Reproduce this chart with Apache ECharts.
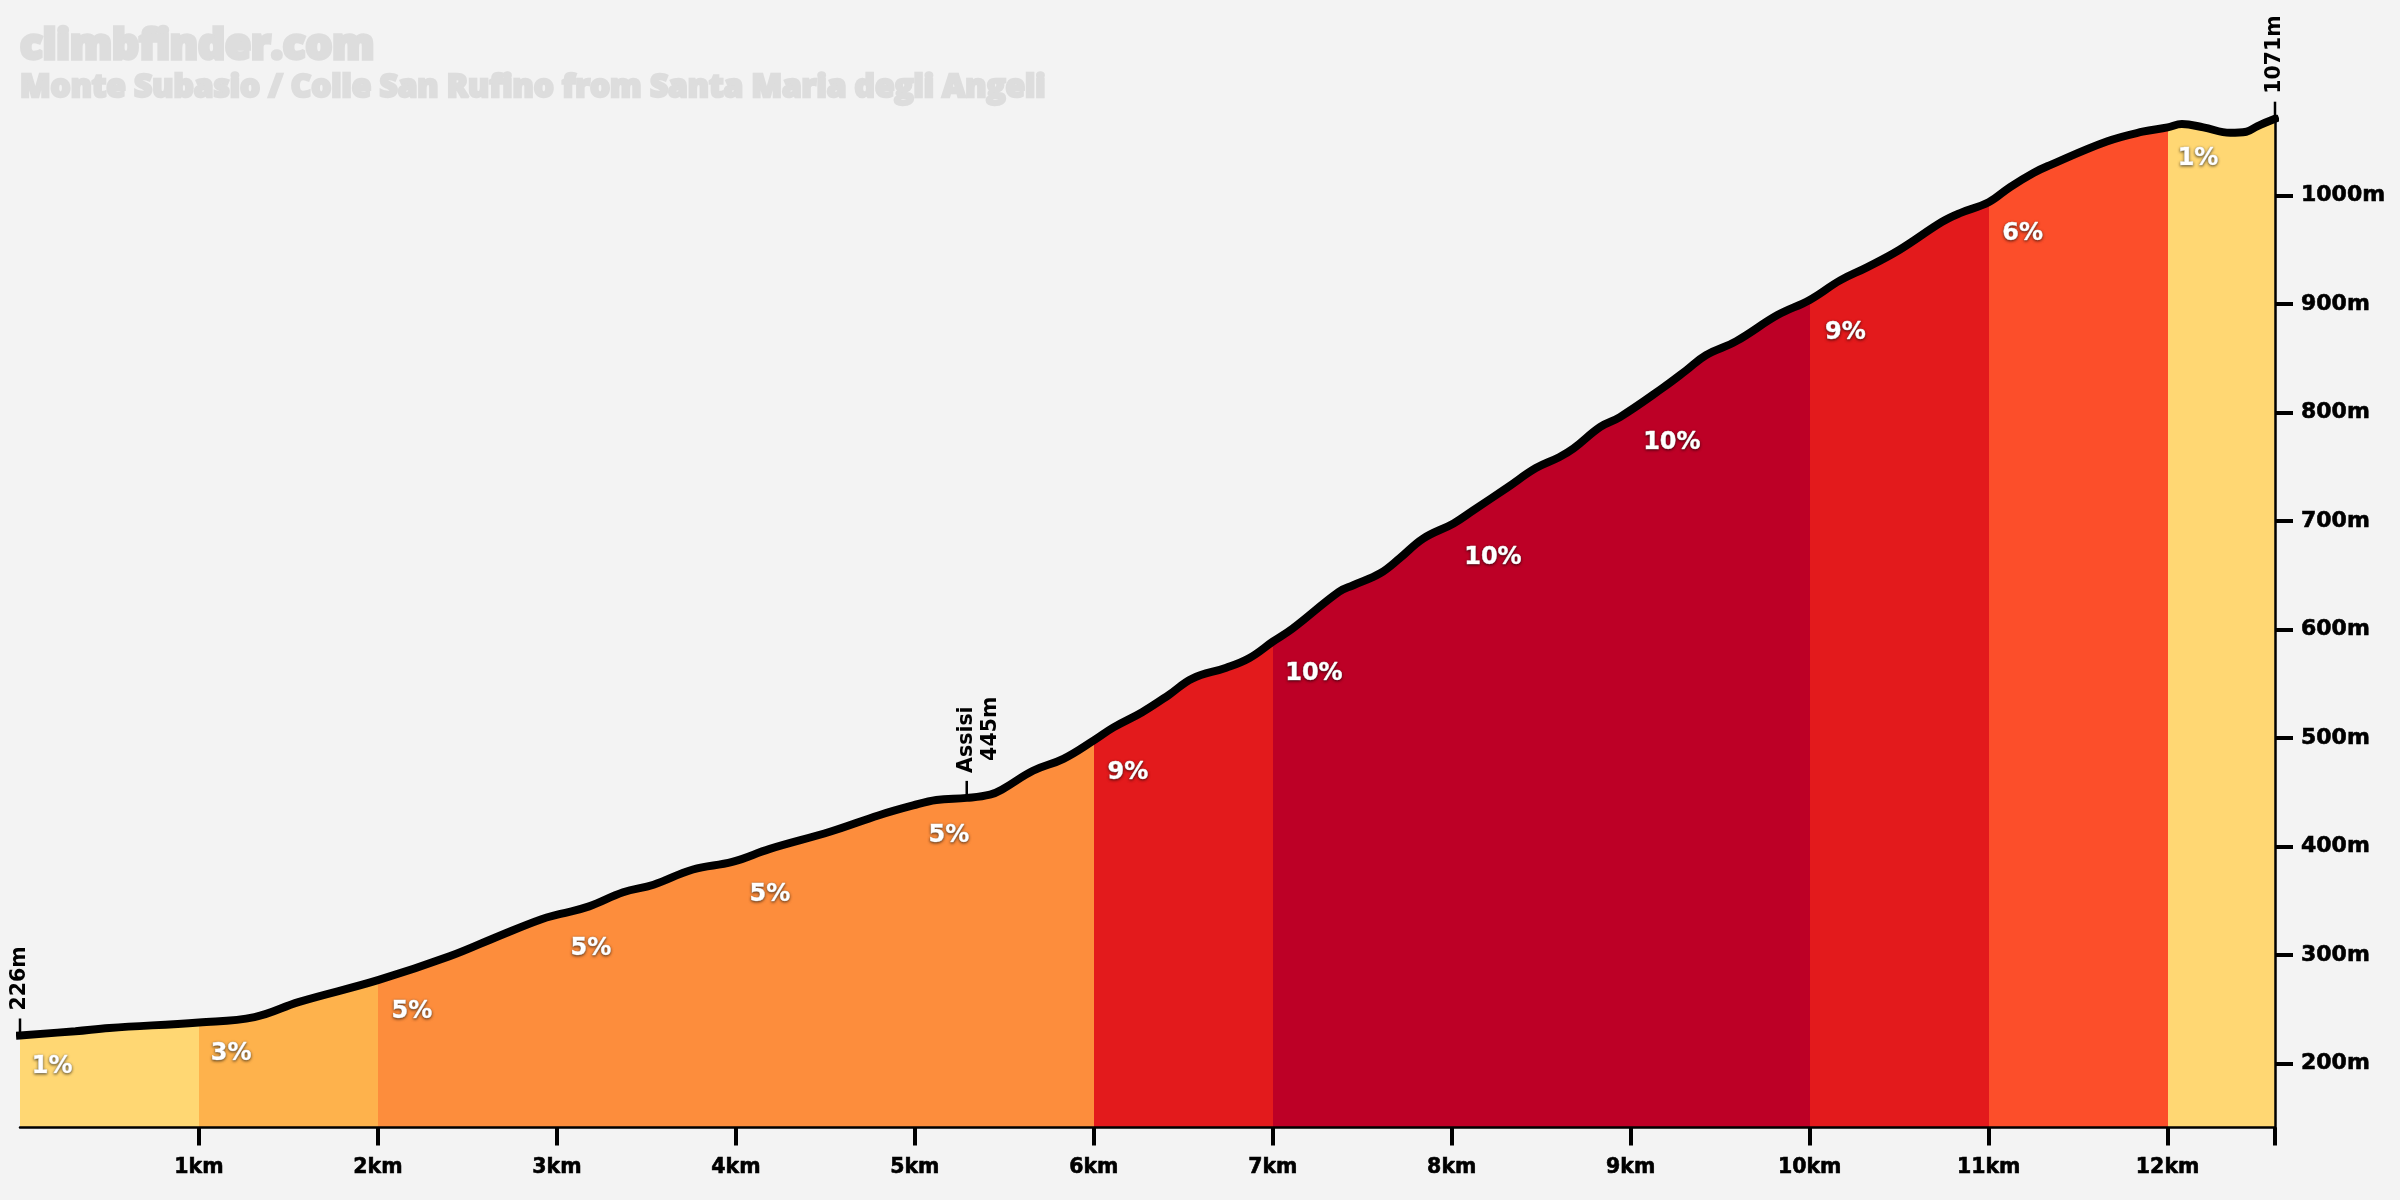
<!DOCTYPE html>
<html>
<head>
<meta charset="utf-8">
<script src="https://cdnjs.cloudflare.com/ajax/libs/echarts/6.0.0/echarts.min.js"></script>
<style>
  html, body { margin: 0; height: 100%; background: #f3f3f3; }
  #myChart { width: 2400px; height: 1200px; }
</style>
</head>
<body>
<div id="myChart"></div>
<script type="text/javascript">
  // elevation profile
  var profileKm = [0, 0.31, 0.5, 1, 1.31, 1.56, 2, 2.4, 2.68, 2.91, 3.02, 3.18, 3.37, 3.54, 3.76, 3.98, 4.19, 4.53, 4.8, 4.99, 5.12, 5.29, 5.42, 5.49, 5.66, 5.83, 6, 6.11, 6.27, 6.42, 6.55, 6.74, 6.87, 7, 7.11, 7.37, 7.45, 7.6, 7.71, 7.84, 8.01, 8.12, 8.31, 8.47, 8.6, 8.68, 8.83, 8.94, 9.18, 9.31, 9.42, 9.59, 9.82, 10, 10.17, 10.32, 10.5, 10.74, 10.84, 11, 11.12, 11.25, 11.34, 11.66, 11.86, 12, 12.08, 12.2, 12.35, 12.44, 12.5, 12.6];
  var profileElev = [226, 230, 233, 238, 243, 257, 277, 299, 318, 333, 338, 345, 358, 365, 379, 386, 398, 414, 429, 438, 443, 445, 448, 453, 470, 481, 498, 510, 524, 540, 555, 565, 574, 589, 601, 635, 641, 652, 666, 684, 698, 710, 731, 749, 759, 767, 787, 796, 823, 839, 853, 866, 890, 904, 922, 934, 950, 976, 984, 994, 1008, 1021, 1028, 1050, 1059, 1063, 1066, 1063, 1058, 1059, 1064, 1071];

  // gradient sections along the road
  var sectionEnds = [1, 2, 6, 7, 10, 11, 12, 12.6];
  var sectionColors = ["#ffd773", "#feb24c", "#fd8d3c", "#e31a1c", "#bd0026", "#e31a1c", "#fc4e2a", "#ffd773"];

  // percent labels
  var gradeKm = [0.18, 1.18, 2.19, 3.19, 4.19, 5.19, 6.19, 7.23, 8.23, 9.23, 10.2, 11.19, 12.17];
  var gradeElev = [199, 211, 250, 308, 358, 412, 470, 561, 668, 774, 876, 967, 1036];
  var gradeText = ["1%", "3%", "5%", "5%", "5%", "5%", "9%", "10%", "10%", "10%", "9%", "6%", "1%"];

  // start, summit and the village on the way up
  var markerKm = [0, 5.29, 12.6];
  var markerElev = [226, 445, 1071];
  var markerText = ["226m", "{name|Assisi}\n{height|445m}", "1071m"];

  var xTicks = [1, 2, 3, 4, 5, 6, 7, 8, 9, 10, 11, 12];
  var yTicks = [200, 300, 400, 500, 600, 700, 800, 900, 1000];

  var font = "DejaVu Sans";
  var chartDom = document.getElementById("myChart");
  var myChart = echarts.init(chartDom);

  var line = profileKm.map(function (km, i) { return [km, profileElev[i]]; });

  var pieces = sectionEnds.map(function (end, i) {
    return { gte: i === 0 ? 0 : sectionEnds[i - 1], lt: i === sectionEnds.length - 1 ? 13 : end, color: sectionColors[i] };
  });

  var markerStyle = { color: "#000", fontFamily: font, fontWeight: "bold", fontSize: 20.5 };

  var option = {
    animation: false,
    backgroundColor: "#f3f3f3",
    title: [
      {
        text: "climbfinder.com", left: 15, top: 21,
        textStyle: { fontFamily: "Open Sans", fontWeight: 800, fontSize: 42, color: "#dddddd", textBorderColor: "#dddddd", textBorderWidth: 3.5 }
      },
      {
        text: "Monte Subasio / Colle San Rufino from Santa Maria degli Angeli", left: 15, top: 67,
        textStyle: { fontFamily: "Open Sans", fontWeight: 800, fontSize: 31.6, color: "#dddddd", textBorderColor: "#dddddd", textBorderWidth: 2.5 }
      }
    ],
    grid: { left: 20, right: 125, top: 118.7, bottom: 72.5 },
    xAxis: {
      type: "value", min: 0, max: 12.6, z: 3,
      splitLine: { show: false },
      axisLine: { onZero: false, lineStyle: { color: "#000", width: 2.5 } },
      axisTick: { length: 18, lineStyle: { color: "#000", width: 4 }, customValues: xTicks.concat([12.6]) },
      axisLabel: {
        customValues: xTicks, margin: 30, color: "#000",
        fontFamily: font, fontWeight: "bold", fontSize: 20.5, textBorderColor: "#000", textBorderWidth: 0.6,
        formatter: function (v) { return v + "km"; }
      }
    },
    yAxis: {
      type: "value", min: 141.2, max: 1071, position: "right", z: 3,
      splitLine: { show: false },
      axisLine: { show: true, onZero: false, lineStyle: { color: "#000", width: 2.5 } },
      axisTick: { show: true, length: 18, lineStyle: { color: "#000", width: 4 }, customValues: yTicks },
      axisLabel: {
        customValues: yTicks, margin: 26, color: "#000",
        fontFamily: font, fontWeight: "bold", fontSize: 22, textBorderColor: "#000", textBorderWidth: 0.6,
        formatter: function (v) { return v + "m"; }
      }
    },
    visualMap: { show: false, type: "piecewise", dimension: 0, seriesIndex: 0, pieces: pieces },
    series: [
      {
        type: "line", data: line, smooth: 0.4, showSymbol: false, silent: true,
        lineStyle: { width: 0 }, areaStyle: { opacity: 1, origin: "start" }, z: 2
      },
      {
        type: "line", data: line, smooth: 0.4, showSymbol: false, silent: true,
        lineStyle: { color: "#000", width: 8, cap: "square" }, z: 4
      },
      {
        type: "scatter", silent: true, z: 5,
        data: gradeKm.map(function (km, i) { return { value: [km, gradeElev[i]], name: gradeText[i] }; }),
        symbolSize: 1, itemStyle: { color: "transparent", opacity: 1 },
        label: {
          show: true, position: "inside", offset: [0, 2], formatter: "{b}", color: "#fff", opacity: 1,
          fontFamily: font, fontWeight: "bold", fontSize: 24,
          textBorderColor: "#fff", textBorderWidth: 0.6,
          textShadowColor: "rgba(0,0,0,0.6)", textShadowBlur: 3, textShadowOffsetY: 1
        }
      },
      {
        type: "scatter", silent: true, z: 3,
        data: markerKm.map(function (km, i) {
          var item = { value: [km, markerElev[i]], name: markerText[i] };
          // the two line label starts on the stub instead of centering on it
          if (markerText[i].indexOf("\n") >= 0) {
            item.label = { offset: [0, 12] };
          }
          return item;
        }),
        symbol: "rect", symbolSize: [2.5, 17], symbolOffset: [0, "-50%"], itemStyle: { color: "#000", opacity: 1 },
        label: Object.assign({
          show: true, position: "top", distance: 8, rotate: 90, align: "left", verticalAlign: "middle",
          formatter: "{b}", lineHeight: 24, opacity: 1,
          rich: {
            name: Object.assign({ lineHeight: 24 }, markerStyle),
            height: Object.assign({ lineHeight: 24, padding: [0, 0, 0, 12] }, markerStyle)
          }
        }, markerStyle)
      }
    ]
  };

  myChart.setOption(option);
</script>
</body>
</html>
